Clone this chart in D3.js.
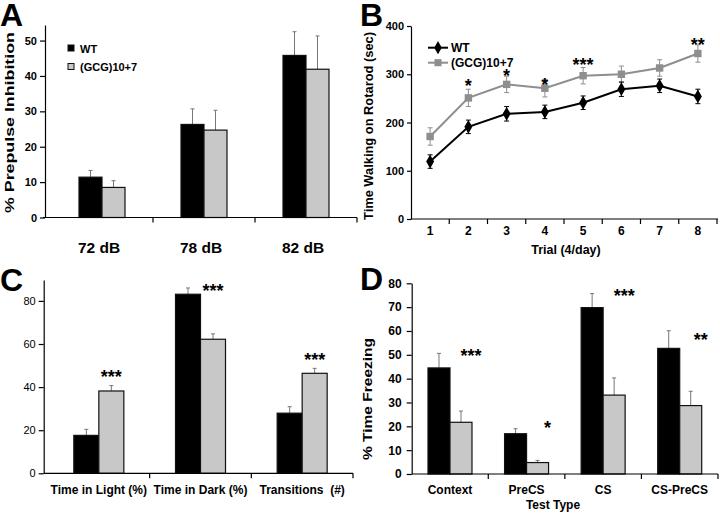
<!DOCTYPE html>
<html>
<head>
<meta charset="utf-8">
<script src="https://cdn.jsdelivr.net/npm/d3@7"></script>
<style>
  body { margin: 0; background: #fff; }
  svg { display: block; font-family: "Liberation Sans", Arial, sans-serif; }
  text { white-space: pre; }
</style>
</head>
<body>
<svg id="fig" width="720" height="514"></svg>
<script>
// ---- data ----
// A: prepulse inhibition
const ppiLevels = ['72 dB', '78 dB', '82 dB'];
const ppiTicks = [0, 10, 20, 30, 40, 50];
const ppiWT = [11.4, 26.3, 45.8];
const ppiWTErr = [1.9, 4.4, 6.7];
const ppiGCG = [8.5, 24.7, 41.9];
const ppiGCGErr = [1.9, 5.6, 9.4];

// B: rotarod
const trials = ['1', '2', '3', '4', '5', '6', '7', '8'];
const rotTicks = [0, 100, 200, 300, 400];
const rotWT = [119, 191, 218, 222, 241, 269, 276, 254];
const rotWTErr = [14, 14, 15, 14, 14, 15, 14, 15];
const rotGCG = [171, 251, 279, 271, 297, 300, 313, 343];
const rotGCGErr = [18, 18, 17, 18, 17, 17, 17, 18];
const rotSig = ['', '*', '*', '*', '***', '', '', '**'];
const rotSigLevel = [0, 284, 305, 286, 327, 0, 0, 369];

// C: light/dark box
const ldMeasures = ['Time in Light (%)', 'Time in Dark (%)', 'Transitions  (#)'];
const ldTicks = [0, 20, 40, 60, 80];
const ldWT = [17.6, 83.1, 27.9];
const ldWTErr = [2.8, 2.9, 3.0];
const ldGCG = [38.2, 62.2, 46.4];
const ldGCGErr = [2.5, 2.5, 2.3];
const ldSig = ['***', '***', '***'];
const ldSigLevel = [46.6, 86.6, 54.5];

// D: fear conditioning
const fearTests = ['Context', 'PreCS', 'CS', 'CS-PreCS'];
const fearTicks = [0, 10, 20, 30, 40, 50, 60, 70, 80];
const fearWT = [44.5, 16.9, 69.8, 52.7];
const fearWTErr = [6.1, 2.1, 5.9, 7.4];
const fearGCG = [21.7, 4.8, 33.1, 28.7];
const fearGCGErr = [4.7, 0.9, 7.2, 6.0];
const fearSig = ['***', '*', '***', '**'];
const fearSigLevel = [51.3, 21, 76.5, 57.9];

const seriesNames = ['WT', '(GCG)10+7'];
const grayFill = '#c8c8c8';
const lineGray = '#8e8e8e';

const svg = d3.select('#fig');

// panel letters
[['A', 0, 26], ['B', 360, 26], ['C', 0, 291], ['D', 360, 290]].forEach(([t, x, y]) => {
  svg.append('text').attr('x', x).attr('y', y)
    .attr('font-size', 32).attr('font-weight', 'bold').text(t);
});

function yAxis(g, y, x0, ticks, o) {
  const ax = g.append('g')
    .attr('transform', `translate(${x0},0)`)
    .call(d3.axisLeft(y).tickValues(ticks).tickSize(o.tickSize).tickPadding(o.pad).tickSizeOuter(0));
  ax.select('.domain').attr('stroke', '#000').attr('stroke-width', 1.2);
  ax.selectAll('.tick line').attr('stroke', '#000').attr('stroke-width', 1.2);
  ax.selectAll('.tick text')
    .attr('font-family', null)
    .attr('font-size', o.font)
    .attr('font-weight', o.bold ? 'bold' : 'normal')
    .attr('fill', '#000');
  ax.attr('font-family', null);
}

function xBaseline(g, x, y0, lineFrom, lineTo) {
  g.append('line').attr('x1', lineFrom).attr('x2', lineTo)
    .attr('y1', y0).attr('y2', y0).attr('stroke', '#000').attr('stroke-width', 1.2);
  x.domain().forEach(c => {
    const bx = x(c) + x.step();
    g.append('line').attr('x1', bx).attr('x2', bx)
      .attr('y1', y0).attr('y2', y0 + 5).attr('stroke', '#000').attr('stroke-width', 1.2);
  });
}

function barPanel(o) {
  const g = svg.append('g');
  const x = d3.scaleBand().domain(o.cats).range(o.xRange);
  const y = d3.scaleLinear().domain(o.yDomain).range(o.yRange);
  const y0 = y(0);

  const groups = [
    { vals: o.wt, errs: o.wtErr, fill: '#000', off: -o.barW },
    { vals: o.gcg, errs: o.gcgErr, fill: grayFill, off: 0 }
  ];
  groups.forEach(s => {
    o.cats.forEach((c, i) => {
      const cx = x(c) + x.bandwidth() / 2 + s.off;
      const ex = cx + o.barW / 2;
      // error bar (upper only)
      g.append('line').attr('x1', ex).attr('x2', ex)
        .attr('y1', y(s.vals[i])).attr('y2', y(s.vals[i] + s.errs[i]))
        .attr('stroke', '#777').attr('stroke-width', 1);
      g.append('line').attr('x1', ex - 2).attr('x2', ex + 2)
        .attr('y1', y(s.vals[i] + s.errs[i])).attr('y2', y(s.vals[i] + s.errs[i]))
        .attr('stroke', '#777').attr('stroke-width', 1);
      g.append('rect')
        .attr('x', cx).attr('y', y(s.vals[i]))
        .attr('width', o.barW).attr('height', y0 - y(s.vals[i]))
        .attr('fill', s.fill).attr('stroke', '#111').attr('stroke-width', 1.2);
    });
  });

  yAxis(g, y, o.yAxisX, o.ticks, o.yTick);
  xBaseline(g, x, y0, o.xLine[0], o.xLine[1]);

  g.selectAll('.cat')
    .data(o.cats)
    .enter().append('text')
    .attr('x', d => x(d) + x.bandwidth() / 2 + (o.catShift || 0))
    .attr('y', o.catY)
    .attr('text-anchor', 'middle')
    .attr('font-size', o.catFont)
    .attr('font-weight', 'bold')
    .text(d => d);

  if (o.sig) {
    o.cats.forEach((c, i) => {
      g.append('text')
        .attr('x', x(c) + x.bandwidth() / 2 + o.sigShift)
        .attr('y', y(o.sigLevel[i]) + 10)
        .attr('text-anchor', 'middle')
        .attr('font-size', 18).attr('font-weight', 'bold')
        .text(o.sig[i]);
    });
  }
  return g;
}

function yLabel(text, x, yc, len, size) {
  svg.append('text')
    .attr('transform', `translate(${x},${yc}) rotate(-90)`)
    .attr('text-anchor', 'middle')
    .attr('font-size', size).attr('font-weight', 'bold')
    .attr('textLength', len).attr('lengthAdjust', 'spacingAndGlyphs')
    .text(text);
}

// ---- A ----
barPanel({
  cats: ppiLevels, wt: ppiWT, wtErr: ppiWTErr, gcg: ppiGCG, gcgErr: ppiGCGErr,
  xRange: [51, 357], yDomain: [0, 54.4], yRange: [217.5, 25], ticks: ppiTicks,
  barW: 23, yAxisX: 45, xLine: [43, 357],
  yTick: { tickSize: 5, pad: 3, font: 11, bold: true },
  catY: 253, catFont: 15.5, catShift: -3
});
yLabel('% Prepulse Inhibition', 14, 122.5, 181, 13);

// legend A
seriesNames.forEach((n, i) => {
  svg.append('rect').attr('x', 68).attr('y', 45 + i * 18.5).attr('width', 6).attr('height', 6)
    .attr('fill', i ? grayFill : '#000').attr('stroke', '#111').attr('stroke-width', 1);
  svg.append('text').attr('x', 80).attr('y', 52.5 + i * 18.5)
    .attr('font-size', 11).attr('font-weight', 'bold').text(n);
});

// ---- B ----
{
  const g = svg.append('g');
  const x = d3.scaleBand().domain(trials).range([411, 717]);
  const y = d3.scaleLinear().domain([0, 400]).range([219, 26]);
  const cx = d => x(d) + x.bandwidth() / 2;

  yAxis(g, y, 411, rotTicks, { tickSize: 4, pad: 3, font: 11, bold: true });
  xBaseline(g, x, 219, 411, 718);

  g.selectAll('.tl').data(trials).enter().append('text')
    .attr('x', d => cx(d)).attr('y', 235)
    .attr('text-anchor', 'middle').attr('font-size', 12).attr('font-weight', 'bold')
    .text(d => d);
  g.append('text').attr('x', 566).attr('y', 254).attr('text-anchor', 'middle')
    .attr('font-size', 12.5).attr('font-weight', 'bold').text('Trial (4/day)');

  const series = [
    { vals: rotGCG, errs: rotGCGErr, color: lineGray, shape: d3.symbolSquare, size: 55 },
    { vals: rotWT, errs: rotWTErr, color: '#000', shape: d3.symbolDiamond, size: 55 }
  ];
  series.forEach(s => {
    const line = d3.line().x((d, i) => cx(trials[i])).y(d => y(d));
    g.append('path').datum(s.vals).attr('d', line)
      .attr('fill', 'none').attr('stroke', s.color).attr('stroke-width', 2);
    s.vals.forEach((v, i) => {
      const px = cx(trials[i]);
      g.append('line').attr('x1', px).attr('x2', px)
        .attr('y1', y(v - s.errs[i])).attr('y2', y(v + s.errs[i]))
        .attr('stroke', s.color).attr('stroke-width', 1);
      [v - s.errs[i], v + s.errs[i]].forEach(e => {
        g.append('line').attr('x1', px - 2.5).attr('x2', px + 2.5)
          .attr('y1', y(e)).attr('y2', y(e))
          .attr('stroke', s.color).attr('stroke-width', 1);
      });
      g.append('path').attr('d', d3.symbol().type(s.shape).size(s.size)())
        .attr('transform', `translate(${px},${y(v)})`)
        .attr('fill', s.color);
    });
  });

  rotSig.forEach((t, i) => {
    if (!t) return;
    g.append('text').attr('x', cx(trials[i])).attr('y', y(rotSigLevel[i]) + 10)
      .attr('text-anchor', 'middle').attr('font-size', 18).attr('font-weight', 'bold').text(t);
  });

  // legend B
  [['#000', d3.symbolDiamond], [lineGray, d3.symbolSquare]].forEach(([c, sh], i) => {
    const ly = 47.7 + i * 15;
    g.append('line').attr('x1', 428).attr('x2', 448).attr('y1', ly).attr('y2', ly)
      .attr('stroke', c).attr('stroke-width', 2);
    g.append('path').attr('d', d3.symbol().type(sh).size(50)())
      .attr('transform', `translate(438,${ly})`).attr('fill', c);
    g.append('text').attr('x', 451).attr('y', ly + 4.5)
      .attr('font-size', 12).attr('font-weight', 'bold').text(seriesNames[i]);
  });
}
yLabel('Time Walking on Rotarod (sec)', 372.5, 126, 188, 13);

// ---- C ----
barPanel({
  cats: ldMeasures, wt: ldWT, wtErr: ldWTErr, gcg: ldGCG, gcgErr: ldGCGErr,
  xRange: [48, 353], yDomain: [0, 89.7], yRange: [473.3, 280], ticks: ldTicks,
  barW: 25, yAxisX: 43.7, xLine: [43.7, 353],
  yTick: { tickSize: 5, pad: 3, font: 11, bold: false },
  catY: 494, catFont: 12,
  sig: ldSig, sigLevel: ldSigLevel, sigShift: 12.5
});

// ---- D ----
barPanel({
  cats: fearTests, wt: fearWT, wtErr: fearWTErr, gcg: fearGCG, gcgErr: fearGCGErr,
  xRange: [411.7, 718], yDomain: [0, 80], yRange: [474, 283.3], ticks: fearTicks,
  barW: 22, yAxisX: 411.7, xLine: [411.7, 718],
  yTick: { tickSize: 5, pad: 5, font: 12, bold: true },
  catY: 494, catFont: 12,
  sig: fearSig, sigLevel: fearSigLevel, sigShift: 21
});
svg.append('text').attr('x', 553).attr('y', 509).attr('text-anchor', 'middle')
  .attr('font-size', 12).attr('font-weight', 'bold').text('Test Type');
yLabel('% Time Freezing', 372, 399, 122, 13);
</script>
</body>
</html>
